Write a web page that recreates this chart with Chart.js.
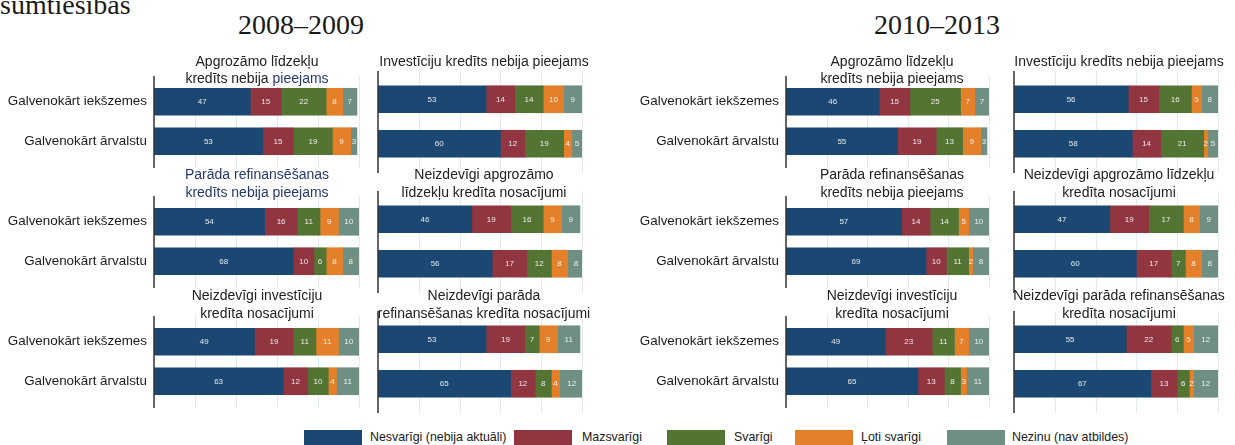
<!DOCTYPE html>
<html>
<head>
<meta charset="utf-8">
<script src="https://cdn.jsdelivr.net/npm/chart.js@4.4.1/dist/chart.umd.min.js"></script>
<style>
  html, body { margin:0; padding:0; background:#fff; }
  body { width:1235px; height:445px; overflow:hidden; position:relative; font-family:"Liberation Sans", Arial, sans-serif; }
  .abs { position:absolute; }
  .serif { font-family:"Liberation Serif", "Times New Roman", serif; color:#1a1a1a; white-space:nowrap; }
  .tline { position:absolute; width:320px; text-align:center; font-size:14px; line-height:17px; color:#222; white-space:nowrap; z-index:3; }
  .hl { color:#26396e; }
  .lgbox { position:absolute; width:58px; height:20px; }
  .lgtext { position:absolute; font-size:12.4px; line-height:15px; color:#1a1a1a; white-space:nowrap; }
  canvas { position:absolute; }
</style>
</head>
<body>
<script>
// ---------------- DATA ----------------
const categories = ['Galvenokārt iekšzemes', 'Galvenokārt ārvalstu'];
const seriesNames = ['Nesvarīgi (nebija aktuāli)', 'Mazsvarīgi', 'Svarīgi', 'Ļoti svarīgi', 'Nezinu (nav atbildes)'];
const periods = ['2008–2009', '2010–2013'];
const gridTicks = [0, 20, 40, 60, 80, 100];
const cutHeading = 'sumtiesības';

// each entry: [Galvenokārt iekšzemes, Galvenokārt ārvalstu], panels in reading order
const nesvarigi_0809   = [[47,53],[53,60],[54,68],[46,56],[49,63],[53,65]];
const mazsvarigi_0809  = [[15,15],[14,12],[16,10],[19,17],[19,12],[19,12]];
const svarigi_0809     = [[22,19],[14,19],[11,6],[16,12],[11,10],[7,8]];
const lotiSvarigi_0809 = [[8,9],[10,4],[9,8],[9,8],[11,4],[9,4]];
const nezinu_0809      = [[7,3],[9,5],[10,8],[9,8],[10,11],[11,12]];

const nesvarigi_1013   = [[46,55],[56,58],[57,69],[47,60],[49,65],[55,67]];
const mazsvarigi_1013  = [[15,19],[15,14],[14,10],[19,17],[23,13],[22,13]];
const svarigi_1013     = [[25,13],[16,21],[14,11],[17,7],[11,8],[6,6]];
const lotiSvarigi_1013 = [[7,9],[5,2],[5,2],[8,8],[7,3],[5,2]];
const nezinu_1013      = [[7,3],[8,5],[10,8],[9,8],[10,11],[12,12]];

const titles_0809 = [
  ['Apgrozāmo līdzekļu', 'kredīts nebija pieejams'],
  ['Investīciju kredīts nebija pieejams'],
  ['Parāda refinansēšanas', 'kredīts nebija pieejams'],
  ['Neizdevīgi apgrozāmo', 'līdzekļu kredīta nosacījumi'],
  ['Neizdevīgi investīciju', 'kredīta nosacījumi'],
  ['Neizdevīgi parāda', 'refinansēšanas kredīta nosacījumi']
];
const titles_1013 = [
  ['Apgrozāmo līdzekļu', 'kredīts nebija pieejams'],
  ['Investīciju kredīts nebija pieejams'],
  ['Parāda refinansēšanas', 'kredīts nebija pieejams'],
  ['Neizdevīgi apgrozāmo līdzekļu', 'kredīta nosacījumi'],
  ['Neizdevīgi investīciju', 'kredīta nosacījumi'],
  ['Neizdevīgi parāda refinansēšanas', 'kredīta nosacījumi']
];

// ---------------- STYLE / LAYOUT ----------------
const colors = ['#1b4872', '#913540', '#547434', '#e38029', '#6e8f82'];
const blocks = [
  { x0: 0,   areaLeft: [154, 378], areaRight: [359, 582], titleCx: [257, 484], headCx: 301,
    series: [nesvarigi_0809, mazsvarigi_0809, svarigi_0809, lotiSvarigi_0809, nezinu_0809], titles: titles_0809,
    navy: { '0-1': 'pieejams', '2-0': '*', '2-1': '*' } },
  { x0: 620, areaLeft: [786, 1014], areaRight: [989, 1218], titleCx: [892, 1119], headCx: 937,
    series: [nesvarigi_1013, mazsvarigi_1013, svarigi_1013, lotiSvarigi_1013, nezinu_1013], titles: titles_1013,
    navy: {} }
];
const rowTops = [77, 197, 317];
const areaH = 89;
const titleLineY = [[61, 78], [174, 192], [295, 313]];
const PAD = 10;

function addDiv(cls, html, css) {
  const d = document.createElement('div');
  d.className = cls;
  d.innerHTML = html;
  Object.assign(d.style, css);
  document.body.appendChild(d);
  return d;
}

// cut heading and period headings
addDiv('abs serif', cutHeading, { left: '0px', top: '-9px', fontSize: '28px', lineHeight: '28px' });
blocks.forEach((b, i) => {
  addDiv('abs serif', periods[i], { left: (b.headCx - 100) + 'px', width: '200px', textAlign: 'center', top: '11px', fontSize: '28px', lineHeight: '28px' });
});

// legend
const lgBoxX = [304, 514, 667, 795, 947];
const lgTextX = [370, 582, 734, 861, 1012];
seriesNames.forEach((n, i) => {
  addDiv('lgbox', '', { left: lgBoxX[i] + 'px', top: '430px', background: colors[i] });
  addDiv('lgtext', n, { left: lgTextX[i] + 'px', top: '430px' });
});

// plugins
const gridPlugin = {
  id: 'gridExt',
  beforeDatasetsDraw(chart) {
    const { ctx, chartArea, scales } = chart;
    ctx.save();
    ctx.strokeStyle = '#e4ebee';
    ctx.lineWidth = 1;
    gridTicks.slice(1).forEach(v => {
      const px = Math.round(scales.x.getPixelForValue(v)) + 0.5;
      ctx.beginPath();
      ctx.moveTo(px, chartArea.top - 6);
      ctx.lineTo(px, chartArea.bottom + 7);
      ctx.stroke();
    });
    ctx.restore();
  },
  afterDatasetsDraw(chart) {
    const { ctx, chartArea, scales } = chart;
    ctx.save();
    const px = scales.x.getPixelForValue(gridTicks[0]);
    ctx.strokeStyle = '#333';
    ctx.lineWidth = 1.5;
    ctx.beginPath();
    ctx.moveTo(px, chartArea.top - 6);
    ctx.lineTo(px, chartArea.bottom + 7);
    ctx.stroke();
    ctx.fillStyle = 'rgba(255,255,255,0.88)';
    ctx.font = '8px "Liberation Sans", Arial, sans-serif';
    ctx.textAlign = 'center';
    ctx.textBaseline = 'middle';
    chart.data.datasets.forEach((ds, di) => {
      chart.getDatasetMeta(di).data.forEach((el, j) => {
        ctx.fillText(String(ds.data[j]), (el.x + el.base) / 2, el.y + 0.5);
      });
    });
    ctx.restore();
  }
};

blocks.forEach((b, bi) => {
  for (let p = 0; p < 6; p++) {
    const row = Math.floor(p / 2), col = p % 2;
    const aL = b.areaLeft[col], aR = b.areaRight[col];
    const left = col === 0 ? b.x0 : aL - 4;
    const width = aR + 4 - left;
    const top = rowTops[row] - PAD;
    const height = areaH + 2 * PAD;

    const cv = document.createElement('canvas');
    cv.width = width; cv.height = height;
    cv.style.left = left + 'px'; cv.style.top = top + 'px';
    cv.style.width = width + 'px'; cv.style.height = height + 'px';
    document.body.appendChild(cv);

    const datasets = seriesNames.map((n, s) => ({
      label: n,
      data: b.series[s][p].slice(),
      backgroundColor: colors[s],
      borderWidth: 0,
      barThickness: 27
    }));

    new Chart(cv, {
      type: 'bar',
      data: { labels: categories, datasets },
      options: {
        indexAxis: 'y',
        responsive: false,
        animation: false,
        devicePixelRatio: 1,
        layout: { padding: { top: PAD, bottom: PAD, right: 4, left: col === 0 ? 0 : 4 } },
        plugins: { legend: { display: false }, tooltip: { enabled: false } },
        scales: {
          x: { stacked: true, min: 0, max: 100, display: false },
          y: {
            stacked: true,
            offset: true,
            display: col === 0,
            grid: { display: false, drawTicks: false },
            border: { display: false },
            ticks: { padding: 7, color: '#1a1a1a', font: { family: '"Liberation Sans", Arial, sans-serif', size: 13.4 } },
            afterFit(scale) { if (col === 0) scale.width = aL - left; }
          }
        }
      },
      plugins: [gridPlugin]
    });

    const lines = b.titles[p];
    lines.forEach((t, li) => {
      const key = p + '-' + li;
      let html = t;
      if (b.navy[key] === '*') html = '<span class="hl">' + t + '</span>';
      else if (b.navy[key]) html = t.replace(b.navy[key], '<span class="hl">' + b.navy[key] + '</span>');
      const cy = titleLineY[row][li];
      addDiv('tline', html, { left: (b.titleCx[col] - 160) + 'px', top: (cy - 8.5) + 'px' });
    });
  }
});
</script>
</body>
</html>
